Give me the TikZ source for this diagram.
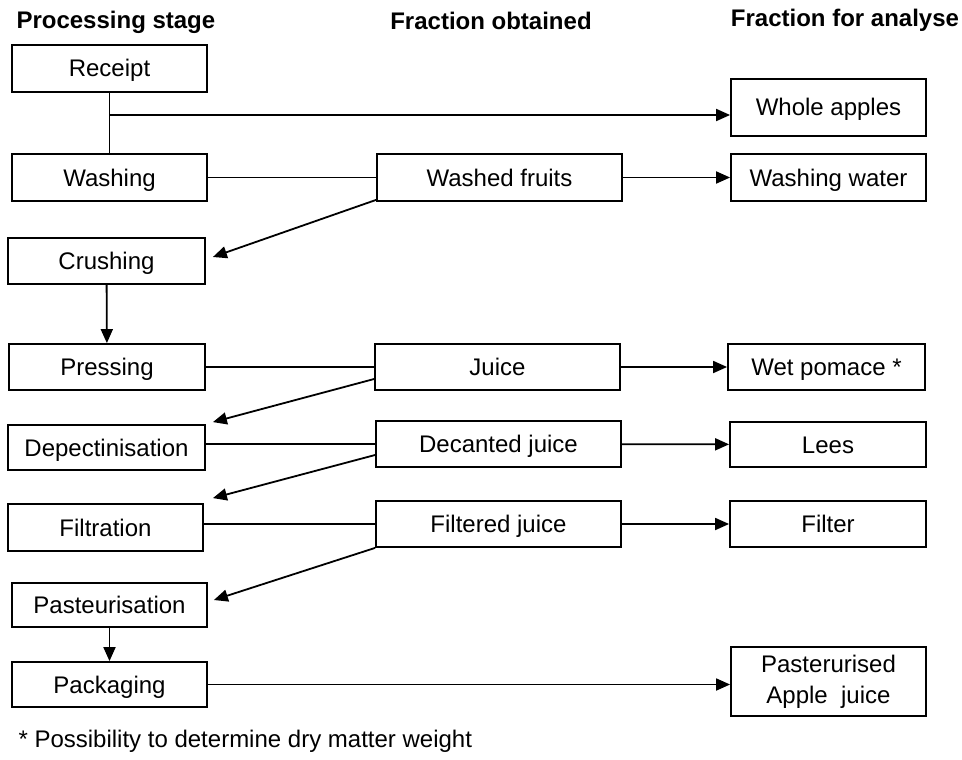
\documentclass[tikz,border=0pt]{standalone}
\usepackage{fontspec}
\setmainfont{Liberation Sans}
\usetikzlibrary{arrows.meta, positioning}

\begin{document}
\begin{tikzpicture}[x=1pt, y=-1pt,
  box/.style={draw, line width=1.8pt, minimum width=195pt, minimum height=46pt,
    inner sep=0pt, align=center, text height=17pt, text depth=0pt,
    font=\fontsize{24}{31}\selectfont},
  mid/.style={box, minimum width=245pt},
  head/.style={font=\bfseries\fontsize{24}{28}\selectfont},
  link/.style={line width=1.8pt},
  flow/.style={link, -{Triangle[length=14pt,width=12pt]}}]

  \useasboundingbox (0,0) rectangle (962,760);

  \node[head, anchor=west] (hstage) at (13,22) {Processing stage};
  \node[head] (hobt) at (491,21) {Fraction obtained};
  \node[head] (hana) at (845,20) {Fraction for analyse};

  \node[box, minimum height=47pt] (receipt) at (109.5,68.5) {Receipt};
  \node[box, minimum height=47pt] (washing) at (109.5,177.5) {Washing};
  \node[box, minimum width=197pt] (crushing) at (106.5,261) {Crushing};
  \node[box, minimum width=196pt] (pressing) at (107,367) {Pressing};
  \node[box, minimum width=197pt, minimum height=45pt] (depect) at (106.5,447.5) {Depectinisation};
  \node[box, minimum height=47pt] (filtration) at (105.5,527.5) {Filtration};
  \node[box, minimum height=44pt] (pasteur) at (109.5,605) {Pasteurisation};
  \node[box, minimum height=45pt] (packaging) at (109.5,684.5) {Packaging};

  \node[mid, minimum height=47pt] (washed) at (499.5,177.5) {Washed fruits};
  \node[mid] (juice) at (497.5,367) {Juice};
  \node[mid] (decanted) at (498.5,444) {Decanted juice};
  \node[mid] (filtered) at (498.5,524) {Filtered juice};

  \node[box, minimum height=57pt] (whole) at (828.5,107.5) {Whole apples};
  \node[box, minimum height=47pt] (water) at (828.5,177.5) {Washing water};
  \node[box, minimum width=197pt] (pomace) at (826.5,367) {Wet pomace *};
  \node[box, minimum width=196pt, minimum height=45pt] (lees) at (828,444.5) {Lees};
  \node[box, minimum width=196pt] (filter) at (828,524) {Filter};
  \node[box, minimum height=69pt, text height=, text depth=] (pastjuice) at (828.5,681.5)
    {Pasterurised\\Apple\ \ juice};

  \node[anchor=west, font=\fontsize{24}{28}\selectfont] (note) at (15,741)
    {* Possibility to determine dry matter weight};

  \coordinate (split) at (109.5,115);
  \draw[link] (receipt) -- (washing);
  \draw[flow] (split) -- (split -| whole.west);

  \draw[link] (washing) -- (washed);
  \draw[flow] (washed) -- (water);
  \draw[flow] ([yshift=2pt]washed.south west) -- ([xshift=7pt,yshift=4pt]crushing.east);
  \draw[flow] (crushing) -- (pressing);

  \draw[link] (pressing) -- (juice);
  \draw[flow] (juice) -- (pomace);
  \draw[flow] ([yshift=-12pt]juice.west) -- ([xshift=7pt,yshift=2pt]depect.north east);

  \draw[link] (decanted.west -| depect.east) -- (decanted.west);
  \draw[flow] (decanted) -- (lees);
  \draw[flow] ([yshift=-11pt]decanted.west) -- ([xshift=9pt,yshift=5pt]filtration.north east);

  \draw[link] (filtered.west -| filtration.east) -- (filtered.west);
  \draw[flow] (filtered) -- (filter);
  \draw[flow] (filtered.south west) -- ([xshift=6pt,yshift=5pt]pasteur.east);
  \draw[flow] (pasteur) -- (packaging);

  \draw[flow] (packaging.east) -- (packaging.east -| pastjuice.west);
\end{tikzpicture}
\end{document}
